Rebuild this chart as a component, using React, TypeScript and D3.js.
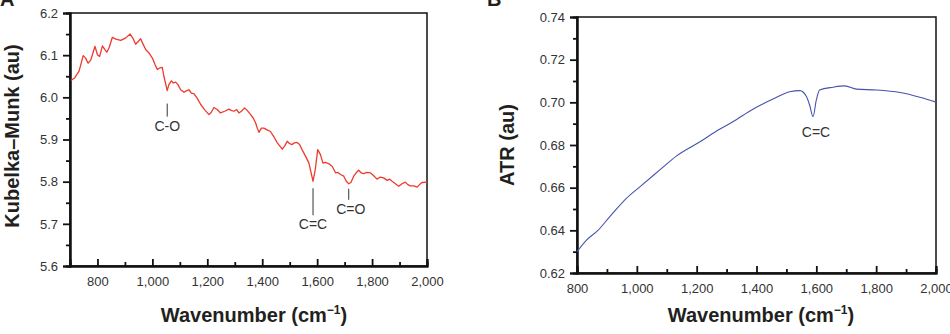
import * as d3 from 'd3';
import {useEffect, useRef} from 'react';

const width = 950;
const height = 334;

// Kubelka–Munk diffuse reflectance spectrum
const kmWave = [
  703, 717, 733, 748, 757, 766, 776, 791, 800, 808, 818, 827, 834, 842, 854, 867, 885, 903, 919, 931,
  939, 949, 957, 967, 976, 988, 1000, 1010, 1018, 1028, 1036, 1042, 1054, 1060, 1069, 1076, 1085, 1093,
  1103, 1115, 1125, 1133, 1142, 1151, 1163, 1176, 1190, 1206, 1214, 1224, 1236, 1248, 1263, 1279, 1287,
  1297, 1307, 1315, 1324, 1336, 1345, 1358, 1367, 1376, 1382, 1388, 1397, 1406, 1418, 1430, 1442, 1455,
  1473, 1482, 1491, 1500, 1509, 1517, 1527, 1536, 1545, 1558, 1570, 1578, 1585, 1593, 1602, 1612, 1621,
  1630, 1642, 1655, 1667, 1676, 1685, 1697, 1706, 1715, 1723, 1733, 1742, 1751, 1760, 1769, 1782, 1794,
  1806, 1818, 1830, 1842, 1855, 1864, 1873, 1885, 1897, 1909, 1921, 1930, 1939, 1952, 1964, 1973, 1982, 2000,
];
const kmValue = [
  6.040, 6.046, 6.062, 6.099, 6.093, 6.081, 6.089, 6.121, 6.101, 6.097, 6.122, 6.113, 6.107, 6.117, 6.142,
  6.138, 6.135, 6.141, 6.150, 6.138, 6.126, 6.133, 6.139, 6.125, 6.113, 6.105, 6.093, 6.077, 6.066, 6.070,
  6.071, 6.050, 6.016, 6.030, 6.039, 6.034, 6.036, 6.030, 6.018, 6.012, 6.016, 6.018, 6.010, 6.009, 5.998,
  5.983, 5.971, 5.959, 5.964, 5.976, 5.971, 5.963, 5.967, 5.972, 5.969, 5.967, 5.971, 5.963, 5.967, 5.975,
  5.969, 5.959, 5.951, 5.939, 5.927, 5.917, 5.927, 5.927, 5.923, 5.919, 5.907, 5.892, 5.877, 5.885, 5.896,
  5.890, 5.888, 5.892, 5.893, 5.888, 5.876, 5.860, 5.844, 5.821, 5.801, 5.828, 5.876, 5.864, 5.844, 5.846,
  5.843, 5.836, 5.821, 5.822, 5.817, 5.813, 5.801, 5.795, 5.798, 5.813, 5.821, 5.827, 5.821, 5.819, 5.822,
  5.821, 5.814, 5.806, 5.811, 5.809, 5.803, 5.806, 5.801, 5.795, 5.789, 5.795, 5.799, 5.793, 5.790, 5.790,
  5.787, 5.793, 5.798, 5.799,
];

// ATR spectrum
const atrWave = [
  800, 831, 870, 909, 965, 1010, 1076, 1132, 1211, 1272, 1321, 1388, 1461, 1511, 1545, 1567, 1578, 1589,
  1600, 1611, 1656, 1695, 1734, 1801, 1880, 1946, 2000,
];
const atrValue = [
  0.6300, 0.6353, 0.6400, 0.6463, 0.6550, 0.6604, 0.6682, 0.6748, 0.6815, 0.6870, 0.6909, 0.6968, 0.7019,
  0.7050, 0.7055, 0.7027, 0.6985, 0.6933, 0.7011, 0.7058, 0.7071, 0.7077, 0.7062, 0.7058, 0.7046, 0.7024,
  0.7001,
];

const xTicks = [800, 1000, 1200, 1400, 1600, 1800, 2000];
const xMinor = [900, 1100, 1300, 1500, 1700, 1900];
const kmTicks = [5.6, 5.7, 5.8, 5.9, 6.0, 6.1, 6.2];
const kmMinor = [5.65, 5.75, 5.85, 5.95, 6.05, 6.15];
const atrTicks = [0.62, 0.64, 0.66, 0.68, 0.7, 0.72, 0.74];
const atrMinor = [0.63, 0.65, 0.67, 0.69, 0.71, 0.73];

const kmPeaks = [
  {label: 'C-O', wave: 1054, value: 6.016},
  {label: 'C=C', wave: 1585, value: 5.801},
  {label: 'C=O', wave: 1715, value: 5.795},
];

const font = 'Liberation Sans, Arial, sans-serif';

function drawPanel(svg, opts) {
  const {left, right, top, bottom, xDomain, yDomain, yTicks, yMinor, yFormat, xs, ys, color, curve, lw} = opts;
  const x = d3.scaleLinear().domain(xDomain).range([left, right]);
  const y = d3.scaleLinear().domain(yDomain).range([bottom, top]);

  const g = svg.append('g');

  // box
  g.append('rect')
    .attr('x', left)
    .attr('y', top)
    .attr('width', right - left)
    .attr('height', bottom - top)
    .attr('fill', 'none')
    .attr('stroke', '#111')
    .attr('stroke-width', 1.5);

  const yAxis = d3.axisLeft(y).tickValues(yTicks).tickFormat(yFormat).tickSize(7).tickPadding(5);
  const ya = g.append('g').attr('transform', `translate(${left},0)`).call(yAxis);
  const yMin = g.append('g').attr('transform', `translate(${left},0)`)
    .call(d3.axisLeft(y).tickValues(yMinor).tickFormat(() => '').tickSize(4));

  const xAxis = d3.axisBottom(x).tickValues(xTicks).tickFormat(d3.format(',')).tickSize(-7).tickPadding(11);
  const xa = g.append('g').attr('transform', `translate(0,${bottom})`).call(xAxis);
  const xMin = g.append('g').attr('transform', `translate(0,${bottom})`)
    .call(d3.axisBottom(x).tickValues(xMinor).tickFormat(() => '').tickSize(-4));

  [ya, yMin, xa, xMin].forEach(a => {
    a.select('.domain').attr('stroke', '#111').attr('stroke-width', 2);
    a.selectAll('line').attr('stroke', '#111').attr('stroke-width', 1.8);
    a.selectAll('text').attr('font-family', font).attr('font-size', 13).attr('fill', '#333');
  });

  const line = d3.line()
    .x((d, i) => x(xs[i]))
    .y(d => y(d))
    .curve(curve);

  g.append('path')
    .datum(ys)
    .attr('fill', 'none')
    .attr('stroke', color)
    .attr('stroke-width', lw)
    .attr('stroke-linejoin', 'round')
    .attr('d', line);

  return {x, y, g};
}

function axisTitle(svg, x, y, rotate) {
  const t = svg.append('text')
    .attr('font-family', font)
    .attr('font-weight', 'bold')
    .attr('font-size', 20)
    .attr('fill', '#231f20')
    .attr('text-anchor', 'middle');
  if (rotate) t.attr('transform', `translate(${x},${y}) rotate(-90)`);
  else t.attr('x', x).attr('y', y);
  return t;
}

function App() {
  const ref = useRef(null);

  useEffect(() => {
    const svg = d3.select(ref.current);
    svg.selectAll('*').remove();

    const a = drawPanel(svg, {
      left: 70, right: 427, top: 13, bottom: 266,
      xDomain: [700, 2000], yDomain: [5.6, 6.2],
      yTicks: kmTicks, yMinor: kmMinor, yFormat: d3.format('.1f'),
      xs: kmWave, ys: kmValue, color: '#ee3a2e', curve: d3.curveLinear, lw: 1.3,
    });

    const b = drawPanel(svg, {
      left: 577, right: 936, top: 17, bottom: 273,
      xDomain: [800, 2000], yDomain: [0.62, 0.74],
      yTicks: atrTicks, yMinor: atrMinor, yFormat: d3.format('.2f'),
      xs: atrWave, ys: atrValue, color: '#4654ab', curve: d3.curveMonotoneX, lw: 1.1,
    });

    // band assignments on panel A
    const labelLen = {'C-O': [13, 13], 'C=C': [7, 27], 'C=O': [5, 11]};
    kmPeaks.forEach(p => {
      const px = a.x(p.wave);
      const py = a.y(p.value);
      const [gap, len] = labelLen[p.label];
      a.g.append('line')
        .attr('x1', px).attr('x2', px)
        .attr('y1', py + gap).attr('y2', py + gap + len)
        .attr('stroke', '#333').attr('stroke-width', 1);
      a.g.append('text')
        .attr('x', p.label === 'C=O' ? px + 2 : px)
        .attr('y', py + gap + len + 14)
        .attr('text-anchor', 'middle')
        .attr('font-family', font).attr('font-size', 14).attr('fill', '#333')
        .text(p.label);
    });

    // dip label on panel B
    b.g.append('text')
      .attr('x', b.x(1589) + 3)
      .attr('y', b.y(0.6933) + 20)
      .attr('text-anchor', 'middle')
      .attr('font-family', font).attr('font-size', 14).attr('fill', '#333')
      .text('C=C');

    // axis titles
    axisTitle(svg, 19, 136, true).text('Kubelka–Munk (au)');
    axisTitle(svg, 514, 145, true).text('ATR (au)');
    [254, 761].forEach(cx => {
      const t = axisTitle(svg, cx, 322, false);
      t.append('tspan').text('Wavenumber (cm');
      t.append('tspan').attr('font-size', 12).attr('dy', -8).text('−1');
      t.append('tspan').attr('dy', 8).text(')');
    });

    // panel letters
    [['A', 0], ['B', 487]].forEach(([s, px]) => {
      svg.append('text')
        .attr('x', px).attr('y', 6)
        .attr('font-family', font).attr('font-weight', 'bold').attr('font-size', 20)
        .attr('fill', '#231f20')
        .text(s);
    });
  }, []);

  return (
    <svg
      ref={ref}
      width={width}
      height={height}
      style={{position: 'absolute', left: 0, top: 0, background: '#fff'}}
    />
  );
}

export default App;
